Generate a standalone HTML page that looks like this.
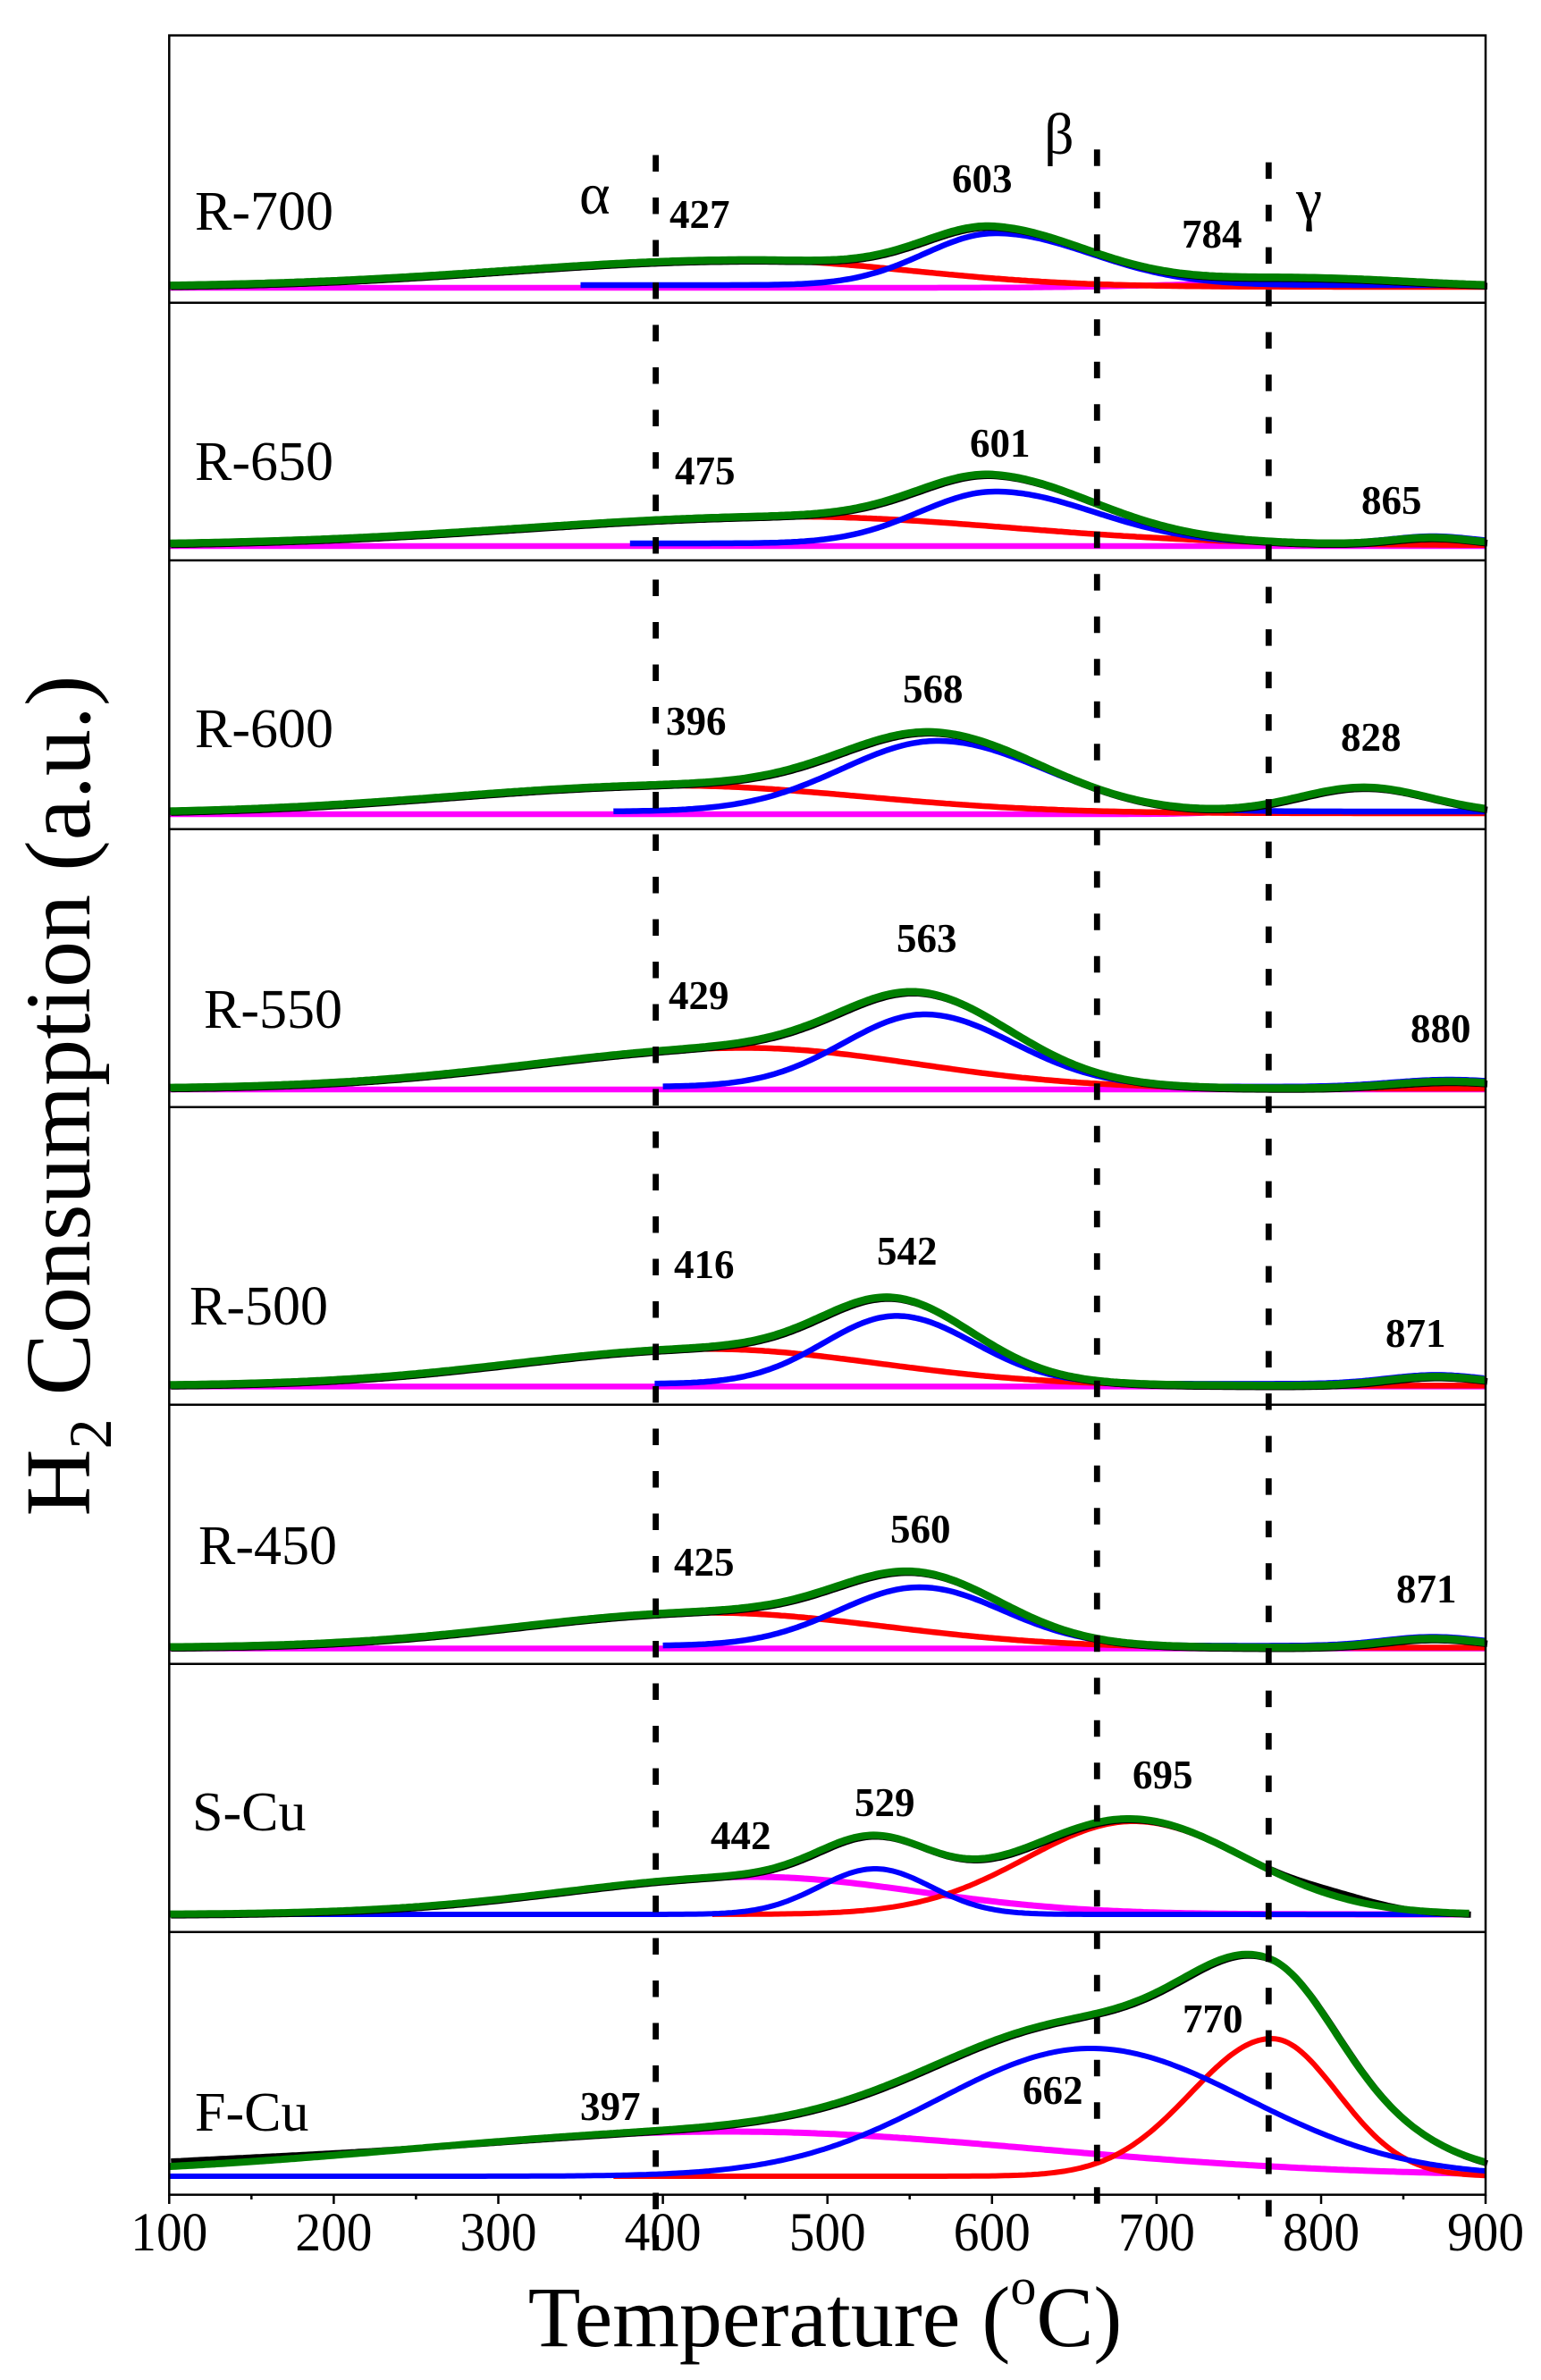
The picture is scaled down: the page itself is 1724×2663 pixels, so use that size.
<!DOCTYPE html>
<html><head><meta charset="utf-8"><style>
html,body{margin:0;padding:0;background:#fff;}
svg{display:block;}
text{font-family:"Liberation Serif","Times New Roman",serif;fill:#000;}
.pl{font-size:62px;}
.pk{font-size:45px;font-weight:bold;}
.tk{font-size:61px;}
.gk{font-size:66px;}
</style></head><body>
<svg id="s" width="1724" height="2663" viewBox="0 0 1724 2663" xmlns="http://www.w3.org/2000/svg" font-family="Liberation Serif, Times New Roman, serif">
<rect x="0" y="0" width="1724" height="2663" fill="#fff"/>
<g id="curves" fill="none" stroke-linejoin="round"></g>
<g stroke="#000" stroke-width="2.5" fill="none">
<rect x="189.3" y="39.6" width="1472.7" height="2416.1"/>
<line x1="189.3" y1="338.8" x2="1662" y2="338.8"/>
<line x1="189.3" y1="627" x2="1662" y2="627"/>
<line x1="189.3" y1="927.8" x2="1662" y2="927.8"/>
<line x1="189.3" y1="1238.8" x2="1662" y2="1238.8"/>
<line x1="189.3" y1="1571.8" x2="1662" y2="1571.8"/>
<line x1="189.3" y1="1861.8" x2="1662" y2="1861.8"/>
<line x1="189.3" y1="2161.8" x2="1662" y2="2161.8"/>
</g>
<g stroke="#000" stroke-width="2.5">
<line x1="189.3" y1="2455.7" x2="189.3" y2="2466"/>
<line x1="281.3" y1="2455.7" x2="281.3" y2="2461"/>
<line x1="373.4" y1="2455.7" x2="373.4" y2="2466"/>
<line x1="465.4" y1="2455.7" x2="465.4" y2="2461"/>
<line x1="557.5" y1="2455.7" x2="557.5" y2="2466"/>
<line x1="649.5" y1="2455.7" x2="649.5" y2="2461"/>
<line x1="741.6" y1="2455.7" x2="741.6" y2="2466"/>
<line x1="833.6" y1="2455.7" x2="833.6" y2="2461"/>
<line x1="925.7" y1="2455.7" x2="925.7" y2="2466"/>
<line x1="1017.7" y1="2455.7" x2="1017.7" y2="2461"/>
<line x1="1109.8" y1="2455.7" x2="1109.8" y2="2466"/>
<line x1="1201.8" y1="2455.7" x2="1201.8" y2="2461"/>
<line x1="1293.9" y1="2455.7" x2="1293.9" y2="2466"/>
<line x1="1385.9" y1="2455.7" x2="1385.9" y2="2461"/>
<line x1="1478" y1="2455.7" x2="1478" y2="2466"/>
<line x1="1570" y1="2455.7" x2="1570" y2="2461"/>
<line x1="1662" y1="2455.7" x2="1662" y2="2466"/>
</g>
<g text-anchor="middle">
<text class="tk" transform="translate(189.3,2518) scale(0.94,1)">100</text>
<text class="tk" transform="translate(373.4,2518) scale(0.94,1)">200</text>
<text class="tk" transform="translate(557.5,2518) scale(0.94,1)">300</text>
<text class="tk" transform="translate(741.6,2518) scale(0.94,1)">400</text>
<text class="tk" transform="translate(925.7,2518) scale(0.94,1)">500</text>
<text class="tk" transform="translate(1109.8,2518) scale(0.94,1)">600</text>
<text class="tk" transform="translate(1293.9,2518) scale(0.94,1)">700</text>
<text class="tk" transform="translate(1478,2518) scale(0.94,1)">800</text>
<text class="tk" transform="translate(1662,2518) scale(0.94,1)">900</text>
</g>
<text x="923" y="2625" text-anchor="middle" font-size="96">Temperature (<tspan font-size="58" dy="-47">o</tspan><tspan dy="47">C)</tspan></text>
<text transform="translate(100,1226) rotate(-90)" text-anchor="middle" font-size="104">H<tspan font-size="68" dy="24">2</tspan><tspan dy="-24"> Consumption (a.u.)</tspan></text>

<text class="pl" x="218" y="257">R-700</text>
<text class="pl" x="218" y="537">R-650</text>
<text class="pl" x="218" y="836">R-600</text>
<text class="pl" x="228" y="1150">R-550</text>
<text class="pl" x="212" y="1482">R-500</text>
<text class="pl" x="222" y="1750">R-450</text>
<text class="pl" x="215" y="2048">S-Cu</text>
<text class="pl" x="218" y="2384">F-Cu</text>

<text class="pk" x="749" y="255">427</text>
<text class="pk" x="1065" y="215">603</text>
<text class="pk" x="1322" y="277">784</text>
<text class="pk" x="755" y="542">475</text>
<text class="pk" x="1085" y="511">601</text>
<text class="pk" x="1523" y="575">865</text>
<text class="pk" x="745" y="822">396</text>
<text class="pk" x="1010" y="786">568</text>
<text class="pk" x="1500" y="840">828</text>
<text class="pk" x="748" y="1129">429</text>
<text class="pk" x="1003" y="1065">563</text>
<text class="pk" x="1578" y="1166">880</text>
<text class="pk" x="754" y="1430">416</text>
<text class="pk" x="981" y="1415">542</text>
<text class="pk" x="1550" y="1507">871</text>
<text class="pk" x="754" y="1763">425</text>
<text class="pk" x="996" y="1726">560</text>
<text class="pk" x="1562" y="1793">871</text>
<text class="pk" x="795" y="2069">442</text>
<text class="pk" x="956" y="2032">529</text>
<text class="pk" x="1267" y="2001">695</text>
<text class="pk" x="1323" y="2274">770</text>
<text class="pk" x="1144" y="2354">662</text>
<text class="pk" x="649" y="2372">397</text>

<text class="gk" x="648" y="239">α</text>
<text class="gk" x="1168" y="172">β</text>
<text class="gk" x="1450" y="245">γ</text>

<g stroke="#000" stroke-width="6.8" stroke-dasharray="18.5 29">
<line x1="733.6" y1="173.5" x2="733.6" y2="2518"/>
<line x1="1227.3" y1="167.3" x2="1227.3" y2="2470"/>
<line x1="1419.3" y1="181.6" x2="1419.3" y2="2485"/>
</g>
</svg>
<script>
(function(){
var NS="http://www.w3.org/2000/svg";
var X=function(T){return 189.3+(T-100)*1.8409;};
function G(T,c){var s=T<c[0]?c[2]:c[3];var d=T-c[0];return c[1]*Math.exp(-d*d/(2*s*s));}
function S(T,l){var v=0;for(var i=0;i<l.length;i++)v+=G(T,l[i]);return v;}
function pth(t0,t1,fy){var d="";for(var T=t0;T<=t1+1e-9;T+=2){d+=(d?"L":"M")+X(T).toFixed(1)+","+fy(T).toFixed(1);}return d;}
var g=document.getElementById("curves");
function add(d,col,w,tr){var p=document.createElementNS(NS,"path");p.setAttribute("d",d);p.setAttribute("stroke",col);p.setAttribute("stroke-width",w);if(tr)p.setAttribute("transform",tr);g.appendChild(p);}
var P=[
{b:322,bo:-3,ro:-1,go:-1,end:900,m:[[784,6,70,70]],r:[[450,30,145,100]],bl:[[602,58,43,58]],bs:350,rs:100,gx:[[790,4,60,60]],kx:[],w:[6.5,6.5,6.5,8.5]},
{b:611,bo:-3,ro:-1,go:-1,end:900,m:[],r:[[477,32,160,135]],bl:[[602,58,46,60],[868,8,25,25]],bs:380,rs:100,gx:[],kx:[],w:[6.5,6.5,6.5,8.5]},
{b:911,bo:-3,ro:-1,go:-1,end:900,m:[[826,29,40,40]],r:[[406,31,135,115]],bl:[[567,79,58,64]],bs:370,rs:100,gx:[],kx:[],w:[6.5,6.5,6.5,8.5]},
{b:1219,bo:-3,ro:-1,go:-1,end:900,m:[],r:[[450,45.5,128,104]],bl:[[559,81,49,54],[878,8,35,35]],bs:400,rs:100,gx:[],kx:[],w:[6.5,6.5,6.5,8.5]},
{b:1551.4,bo:-3,ro:-1,go:-1,end:900,m:[],r:[[428,41,118,103]],bl:[[542,76,44,47],[870,10,30,30]],bs:395,rs:100,gx:[],kx:[],w:[6.5,6.5,6.5,8.5]},
{b:1844.5,bo:-3,ro:-1,go:-1,end:900,m:[],r:[[428,39,115,107]],bl:[[556,65.5,49,50.5],[868,10,30,30]],bs:400,rs:100,gx:[],kx:[],w:[6.5,6.5,6.5,8.5]},
{b:2142,bo:0,ro:0,go:0,end:890,m:[[455,42,115,100]],r:[[686,104,65,68]],bl:[[529,51,34,34]],bs:100,rs:430,gx:[],kx:[[810,6,25,25]],w:[7,6,6,8]},
{b:2435,bo:0,ro:0,go:0,end:900,m:[[439,50,194,190]],r:[[770,154,49,40]],bl:[[660,143,92,95]],bs:100,rs:370,gx:[[840,20,40,40]],kx:[[100,7,90,90]],w:[7,6,6,8]}
];
P.forEach(function(p){
  add(pth(100,p.end,function(T){return p.b-S(T,p.m);}),"#ff00ff",p.w[0]);
  add(pth(p.rs,p.end,function(T){return p.b+p.ro-S(T,p.r);}),"#ff0000",p.w[1]);
  add(pth(p.bs,p.end,function(T){return p.b+p.bo-S(T,p.bl);}),"#0000ff",p.w[2]);
  var gf=function(T){return p.b+p.go-S(T,p.m)-S(T,p.r)-S(T,p.bl)-S(T,p.gx);};
  add(pth(100,p.end,function(T){return gf(T)-S(T,p.kx);}),"#000000",p.w[3]-1,"translate(2,1.5)");
  add(pth(100,p.end,gf),"#007f00",p.w[3]);
});
})();
</script>
</body></html>
